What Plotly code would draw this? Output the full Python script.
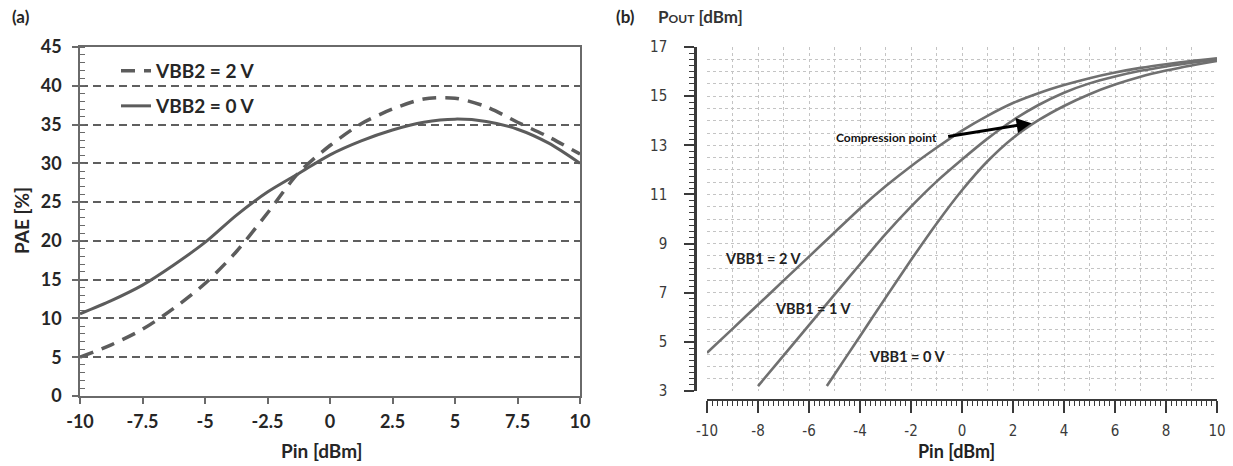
import plotly.graph_objects as go

# ---------- data: panel (a) ----------
pin_a = [-10, -8.75, -7.5, -6.25, -5, -3.75, -2.5, -1.25, 0, 1.25, 2.5, 3.75, 5, 6.25, 7.5, 8.75, 10]
pae_vbb2_2v = [5.0, 6.6, 8.6, 11.3, 14.5, 18.6, 23.6, 28.8, 32.3, 35.1, 37.0, 38.3, 38.4, 37.3, 35.3, 33.4, 31.2]
pae_vbb2_0v = [10.6, 12.3, 14.3, 16.9, 19.8, 23.3, 26.3, 28.7, 31.1, 32.9, 34.3, 35.3, 35.7, 35.4, 34.4, 32.6, 30.0]
a_xticks = [-10, -7.5, -5, -2.5, 0, 2.5, 5, 7.5, 10]
a_yticks = [0, 5, 10, 15, 20, 25, 30, 35, 40, 45]

# ---------- data: panel (b) ----------
pin_2v = [-10, -9, -8, -7, -6, -5, -4, -3, -2, -1, 0, 1, 2, 3, 4, 5, 6, 7, 8, 9, 10]
pout_2v = [4.55, 5.53, 6.51, 7.49, 8.47, 9.45, 10.43, 11.33, 12.15, 12.9, 13.6, 14.2, 14.72, 15.12, 15.45, 15.73, 15.96, 16.15, 16.3, 16.43, 16.54]
pin_1v = [-8, -7, -6, -5, -4, -3, -2, -1, 0, 1, 2, 3, 4, 5, 6, 7, 8, 9, 10]
pout_1v = [3.2, 4.44, 5.68, 6.92, 8.16, 9.38, 10.5, 11.52, 12.42, 13.27, 14.02, 14.64, 15.14, 15.52, 15.8, 16.03, 16.21, 16.36, 16.49]
pin_0v = [-5.3, -5, -4, -3, -2, -1, 0, 1, 2, 3, 4, 5, 6, 7, 8, 9, 10]
pout_0v = [3.2, 3.67, 5.23, 6.79, 8.33, 9.81, 11.17, 12.35, 13.3, 14.02, 14.6, 15.08, 15.47, 15.79, 16.04, 16.25, 16.43]
b_xticks = [-10, -8, -6, -4, -2, 0, 2, 4, 6, 8, 10]
b_yticks = [3, 5, 7, 9, 11, 13, 15, 17]
curve_labels = ["VBB1 = 2 V", "VBB1 = 1 V", "VBB1 = 0 V"]
label_x = [-7.8, -5.84, -2.17]
label_y = [8.4, 6.37, 4.4]
arrow_tail = (-0.6, 13.35)
arrow_head = (2.73, 13.9)

W, H = 1233, 466
def px(x):
    return x / W
def py(y):
    return 1 - y / H

FA = "Lato, 'Open Sans', sans-serif"
FB = "'Liberation Sans Narrow', 'DejaVu Sans Condensed', 'Roboto Condensed', Roboto, sans-serif"
TXT = "#262626"
LINE_A = "#5c5c5c"
LINE_B = "#707070"

fig = go.Figure()

# panel (a) traces
fig.add_trace(go.Scatter(x=pin_a, y=pae_vbb2_2v, mode="lines", name="VBB2 = 2 V",
                         line=dict(color=LINE_A, width=3.5, dash="14px,9px", shape="spline", smoothing=0.8),
                         xaxis="x", yaxis="y", legend="legend", hoverinfo="skip"))
fig.add_trace(go.Scatter(x=pin_a, y=pae_vbb2_0v, mode="lines", name="VBB2 = 0 V",
                         line=dict(color=LINE_A, width=3, shape="spline", smoothing=0.8),
                         xaxis="x", yaxis="y", legend="legend2", hoverinfo="skip"))

# panel (b) traces
for xs, ys in [(pin_2v, pout_2v), (pin_1v, pout_1v), (pin_0v, pout_0v)]:
    fig.add_trace(go.Scatter(x=xs, y=ys, mode="lines", showlegend=False,
                             line=dict(color=LINE_B, width=2.6, shape="spline", smoothing=0.7),
                             xaxis="x2", yaxis="y2", hoverinfo="skip"))
# dummy traces so the free tick axes of panel (b) exist
fig.add_trace(go.Scatter(x=[None], y=[None], xaxis="x3", yaxis="y2", showlegend=False, hoverinfo="skip"))
fig.add_trace(go.Scatter(x=[None], y=[None], xaxis="x2", yaxis="y3", showlegend=False, hoverinfo="skip"))

GRID_B = "#c4c4c4"
AX_B = "#3a3a3a"

fig.update_layout(
    width=W, height=H,
    margin=dict(l=0, r=0, t=0, b=0, autoexpand=False),
    paper_bgcolor="white", plot_bgcolor="white",
    showlegend=True,
    # ---- panel (a) axes ----
    xaxis=dict(domain=[px(80), px(580)], anchor="y", range=[-10, 10], automargin=False,
               tickmode="array", tickvals=a_xticks, ticktext=[f"{v:g}" for v in a_xticks],
               ticks="outside", ticklen=6, tickwidth=1.5, tickcolor="#6a6a6a",
               showline=True, linecolor="#6a6a6a", linewidth=1.5, mirror=True,
               showgrid=False, zeroline=False,
               tickfont=dict(family=FA, size=18, color=TXT, weight="bold"), ticklabelstandoff=3),
    yaxis=dict(domain=[py(396), py(47)], anchor="x", range=[0, 45], automargin=False,
               tickmode="array", tickvals=a_yticks, ticktext=[str(v) for v in a_yticks],
               ticks="outside", ticklen=6, tickwidth=1.5, tickcolor="#6a6a6a",
               minor=dict(dtick=1, ticks="inside", ticklen=5, tickwidth=1, tickcolor="#6a6a6a", showgrid=False),
               showline=True, linecolor="#6a6a6a", linewidth=1.5, mirror=True,
               showgrid=True, gridcolor="#5f5f5f", gridwidth=1.5, griddash="8px,5px", zeroline=False,
               tickfont=dict(family=FA, size=18, color=TXT, weight="bold"), ticklabelstandoff=7),
    # ---- panel (b) grid axes ----
    xaxis2=dict(domain=[px(707), px(1217)], anchor="y2", range=[-10, 10], automargin=False,
                dtick=1, tick0=0, showticklabels=False, ticks="",
                showgrid=True, gridcolor=GRID_B, gridwidth=1, griddash="dot",
                showline=False, zeroline=False),
    yaxis2=dict(domain=[py(391), py(47)], anchor="x2", range=[3, 17], automargin=False,
                dtick=0.5, tick0=3, showticklabels=False, ticks="",
                showgrid=True, gridcolor=GRID_B, gridwidth=1, griddash="dot",
                showline=False, zeroline=False),
    # ---- panel (b) tick axes (free, offset from grid) ----
    xaxis3=dict(overlaying="x2", anchor="free", position=py(400), range=[-10, 10], side="bottom",
                automargin=False,
                tickmode="array", tickvals=b_xticks, ticktext=[f"{v:g}" for v in b_xticks],
                ticks="outside", ticklen=12, tickwidth=1.5, tickcolor=AX_B,
                minor=dict(dtick=0.2, ticks="outside", ticklen=5, tickwidth=1, tickcolor=AX_B),
                showline=True, linecolor=AX_B, linewidth=2,
                showgrid=False, zeroline=False,
                tickfont=dict(family=FB, size=15, color="#3a3a3a"), ticklabelstandoff=5),
    yaxis3=dict(overlaying="y2", anchor="free", position=px(695), range=[3, 17], side="left",
                automargin=False,
                tickmode="array", tickvals=b_yticks, ticktext=[str(v) for v in b_yticks],
                ticks="outside", ticklen=10, tickwidth=1.5, tickcolor=AX_B,
                minor=dict(dtick=0.25, ticks="outside", ticklen=5, tickwidth=1, tickcolor=AX_B),
                showline=True, linecolor=AX_B, linewidth=2.5,
                showgrid=False, zeroline=False,
                tickfont=dict(family=FB, size=15, color="#3a3a3a"), ticklabelstandoff=14),
    legend=dict(x=px(116), y=py(52), xanchor="left", yanchor="top", bgcolor="rgba(0,0,0,0)",
                borderwidth=0, font=dict(family=FA, size=19, color=TXT, weight="bold")),
    legend2=dict(x=px(116), y=py(87), xanchor="left", yanchor="top", bgcolor="rgba(0,0,0,0)",
                 borderwidth=0, font=dict(family=FA, size=19, color=TXT, weight="bold")),
)

ann = []
# panel labels and axis titles
ann.append(dict(text="<b>(a)</b>", x=px(10), y=py(17), xref="paper", yref="paper",
                xanchor="left", yanchor="middle", showarrow=False,
                font=dict(family=FA, size=17, color=TXT)))
ann.append(dict(text="<b>PAE [%]</b>", x=px(22), y=py(221), xref="paper", yref="paper",
                xanchor="center", yanchor="middle", textangle=-90, showarrow=False,
                font=dict(family=FA, size=19, color=TXT)))
ann.append(dict(text="<b>Pin [dBm]</b>", x=px(322), y=py(450), xref="paper", yref="paper",
                xanchor="center", yanchor="middle", showarrow=False,
                font=dict(family=FA, size=19, color=TXT)))
ann.append(dict(text="<b>(b)</b>", x=px(614), y=py(17), xref="paper", yref="paper",
                xanchor="left", yanchor="middle", showarrow=False,
                font=dict(family=FA, size=17, color=TXT)))
ann.append(dict(text="P<span style='font-size:12px'>OUT</span> [dBm]", x=px(656), y=py(17),
                xref="paper", yref="paper", xanchor="left", yanchor="middle", showarrow=False,
                font=dict(family=FA, size=17, color="#333333", weight="bold")))
ann.append(dict(text="Pin [dBm]", x=px(956), y=py(451), xref="paper", yref="paper",
                xanchor="center", yanchor="middle", showarrow=False,
                font=dict(family=FA, size=18, color="#222222", weight="bold")))
# curve labels
for t, lx, ly in zip(curve_labels, label_x, label_y):
    ann.append(dict(text=f"<b>{t}</b>", x=lx, y=ly, xref="x2", yref="y2", showarrow=False,
                    xanchor="center", yanchor="middle",
                    font=dict(family=FA, size=14.5, color="#222222")))
# compression point arrow
ann.append(dict(text="", x=arrow_head[0], y=arrow_head[1], xref="x2", yref="y2",
                ax=arrow_tail[0], ay=arrow_tail[1], axref="x2", ayref="y2",
                showarrow=True, arrowhead=2, arrowsize=1, arrowwidth=3, arrowcolor="black"))
ann.append(dict(text="<b>Compression point</b>", x=arrow_tail[0] - 0.3, y=arrow_tail[1] - 0.05,
                xref="x2", yref="y2", xanchor="right", yanchor="middle", showarrow=False,
                font=dict(family=FA, size=12, color="#111111")))

fig.update_layout(annotations=ann)
fig.write_html("out.html",
               config={"displayModeBar": False},
               post_script="document.body.style.margin='0';document.body.style.overflow='hidden';")
